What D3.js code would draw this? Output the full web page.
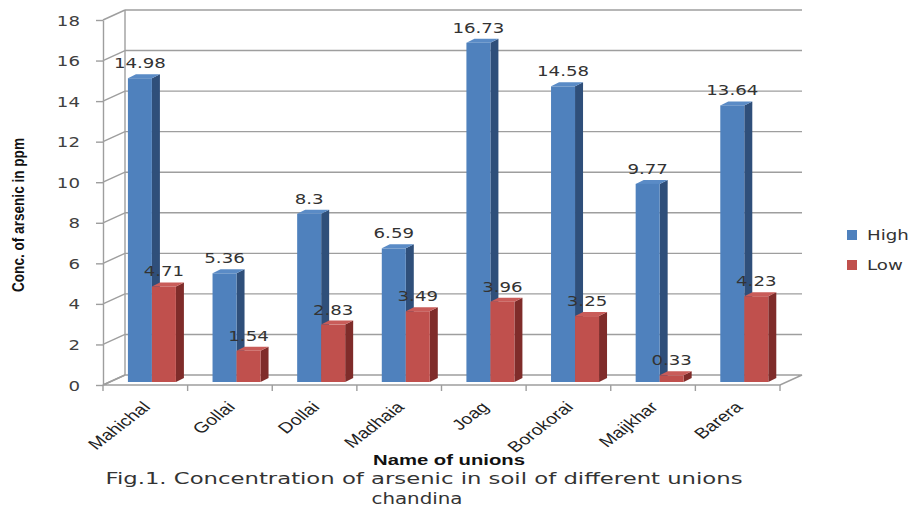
<!DOCTYPE html>
<html>
<head>
<meta charset="utf-8">
<script src="https://cdn.jsdelivr.net/npm/d3@7"></script>
<style>
  html, body { margin: 0; padding: 0; background: #fff; }
  svg { display: block; }
</style>
</head>
<body>
<svg id="chart" width="911" height="511"></svg>
<script>
// ---- data ----
const categories = ["Mahichal", "Gollai", "Dollai", "Madhaia", "Joag", "Borokorai", "Maijkhar", "Barera"];
const seriesNames = ["High", "Low"];
const highValues = [14.98, 5.36, 8.3, 6.59, 16.73, 14.58, 9.77, 13.64];
const lowValues = [4.71, 1.54, 2.83, 3.49, 3.96, 3.25, 0.33, 4.23];
const yTicks = [0, 2, 4, 6, 8, 10, 12, 14, 16, 18];
const yTitle = "Conc. of arsenic in ppm";
const xTitle = "Name of unions";
const captionLines = ["Fig.1. Concentration of arsenic in soil of different unions", "chandina"];

// ---- layout ----
const svg = d3.select("#chart");
const colors = {
  High: { front: "#4F81BD", side: "#2F4F7A", top: "#5A8BC6" },
  Low:  { front: "#C0504D", side: "#7F2C2A", top: "#C95C59" }
};
const left = 103, right = 780, y0 = 385, yTop = 20;
const backDx = 22, backDy = -10;       // back wall depth offset
const barDx = 6.6, barDy = -3;         // bar plane depth offset
const sideDx = 8, sideDy = -4;         // bar thickness
const gridColor = "#9e9e9e";
const textStretch = 1.3;

const x = d3.scaleBand().domain(categories).range([left, right]).paddingInner(0).paddingOuter(0);
const y = d3.scaleLinear().domain([0, 18]).range([y0, yTop]);
const groupW = 48;
const xs = d3.scaleBand().domain(seriesNames).range([0, groupW]);

const data = categories.map((c, i) => ({ cat: c, High: highValues[i], Low: lowValues[i] }));

// ---- back wall gridlines & left wall ----
const g = svg.append("g");
yTicks.forEach(v => {
  const yy = y(v);
  g.append("line").attr("x1", left).attr("y1", yy).attr("x2", left + backDx).attr("y2", yy + backDy)
    .attr("stroke", gridColor).attr("stroke-width", 1.4);
  if (v > 0) {
    g.append("line").attr("x1", left + backDx).attr("y1", yy + backDy).attr("x2", right + backDx).attr("y2", yy + backDy)
      .attr("stroke", gridColor).attr("stroke-width", 1.4);
  }
});
g.append("line").attr("x1", left + backDx).attr("y1", y(0) + backDy).attr("x2", left + backDx).attr("y2", y(18) + backDy)
  .attr("stroke", gridColor).attr("stroke-width", 1.4);
g.append("path")
  .attr("d", `M${left},${y0} L${right},${y0} L${right + backDx},${y0 + backDy} L${left + backDx},${y0 + backDy} Z`)
  .attr("fill", "none").attr("stroke", gridColor).attr("stroke-width", 1.4);

// ---- y axis (front) ----
const yAxis = d3.axisLeft(y).tickValues(yTicks).tickSize(7).tickSizeOuter(0);
const ya = svg.append("g").attr("transform", `translate(${left},0)`).call(yAxis);
ya.select(".domain").attr("stroke", gridColor).attr("stroke-width", 1.4);
ya.selectAll(".tick line").attr("stroke", gridColor).attr("stroke-width", 1.4);
ya.selectAll(".tick text")
  .attr("x", 0).attr("dy", "0.36em")
  .attr("transform", `translate(-23,0) scale(${textStretch},1)`)
  .attr("font-family", "DejaVu Sans, Verdana, sans-serif").attr("font-size", 14)
  .attr("fill", "#404040");

// ---- x axis ticks at category boundaries ----
const bounds = categories.map(c => x(c)).concat([x(categories[categories.length - 1]) + x.bandwidth()]);
bounds.forEach(bx => {
  svg.append("line").attr("x1", bx).attr("x2", bx).attr("y1", y0).attr("y2", y0 + 6)
    .attr("stroke", gridColor).attr("stroke-width", 1.4);
});

// ---- bars ----
const bars = svg.append("g");
data.forEach(d => {
  const cx = x(d.cat) + x.bandwidth() / 2 + barDx;
  seriesNames.forEach(s => {
    const x0 = cx - groupW / 2 + xs(s);
    const x1 = x0 + xs.bandwidth();
    const yb = y(0) + barDy;
    const yt = y(d[s]) + barDy;
    const col = colors[s];
    const bg = bars.append("g");
    bg.append("polygon")
      .attr("points", [[x1, yb], [x1 + sideDx, yb + sideDy], [x1 + sideDx, yt + sideDy], [x1, yt]].map(p => p.join(",")).join(" "))
      .attr("fill", col.side);
    bg.append("polygon")
      .attr("points", [[x0, yt], [x0 + sideDx, yt + sideDy], [x1 + sideDx, yt + sideDy], [x1, yt]].map(p => p.join(",")).join(" "))
      .attr("fill", col.top);
    bg.append("rect").attr("x", x0).attr("y", yt).attr("width", x1 - x0).attr("height", yb - yt)
      .attr("fill", col.front);
  });
});

// ---- data labels ----
const labels = svg.append("g");
data.forEach(d => {
  const cx = x(d.cat) + x.bandwidth() / 2 + barDx;
  seriesNames.forEach(s => {
    const xc = cx - groupW / 2 + xs(s) + xs.bandwidth() / 2;
    const yt = y(d[s]) + barDy;
    labels.append("text")
      .attr("transform", `translate(${xc},${yt - 10}) scale(${textStretch},1)`)
      .attr("text-anchor", "middle")
      .attr("font-family", "DejaVu Sans, Verdana, sans-serif").attr("font-size", 14)
      .attr("fill", "#333")
      .text(String(d[s]));
  });
});

// ---- category labels ----
categories.forEach(c => {
  const cx = x(c) + x.bandwidth() / 2;
  svg.append("text")
    .attr("transform", `translate(${cx + 6},${408}) scale(1.3,1) rotate(-45)`)
    .attr("text-anchor", "end")
    .attr("font-family", "Liberation Sans, Arial, sans-serif").attr("font-size", 15)
    .attr("fill", "#222")
    .text(c);
});

// ---- axis titles ----
svg.append("text")
  .attr("transform", "translate(24,215) rotate(-90)")
  .attr("text-anchor", "middle")
  .attr("font-family", "Liberation Sans Narrow, Liberation Sans, Arial, sans-serif")
  .attr("font-weight", "bold").attr("font-size", 16)
  .attr("textLength", 154).attr("lengthAdjust", "spacingAndGlyphs")
  .attr("fill", "#111")
  .text(yTitle);

svg.append("text")
  .attr("x", 449).attr("y", 465)
  .attr("text-anchor", "middle")
  .attr("font-family", "Liberation Sans, Arial, sans-serif")
  .attr("font-weight", "bold").attr("font-size", 14)
  .attr("textLength", 152).attr("lengthAdjust", "spacingAndGlyphs")
  .attr("fill", "#111")
  .text(xTitle);

// ---- caption ----
svg.append("text")
  .attr("x", 424).attr("y", 484)
  .attr("text-anchor", "middle")
  .attr("font-family", "DejaVu Sans, Verdana, sans-serif").attr("font-size", 16)
  .attr("textLength", 637).attr("lengthAdjust", "spacingAndGlyphs")
  .attr("fill", "#333")
  .text(captionLines[0]);
svg.append("text")
  .attr("x", 417).attr("y", 504)
  .attr("text-anchor", "middle")
  .attr("font-family", "DejaVu Sans, Verdana, sans-serif").attr("font-size", 16)
  .attr("textLength", 91).attr("lengthAdjust", "spacingAndGlyphs")
  .attr("fill", "#333")
  .text(captionLines[1]);

// ---- legend ----
const legend = svg.append("g");
seriesNames.forEach((s, i) => {
  const ly = 235 + i * 30;
  legend.append("rect").attr("x", 847).attr("y", ly - 5).attr("width", 10).attr("height", 10)
    .attr("fill", colors[s].front);
  legend.append("text")
    .attr("transform", `translate(867,${ly + 5}) scale(${textStretch},1)`)
    .attr("font-family", "DejaVu Sans, Verdana, sans-serif").attr("font-size", 14)
    .attr("fill", "#333")
    .text(s);
});
</script>
</body>
</html>
